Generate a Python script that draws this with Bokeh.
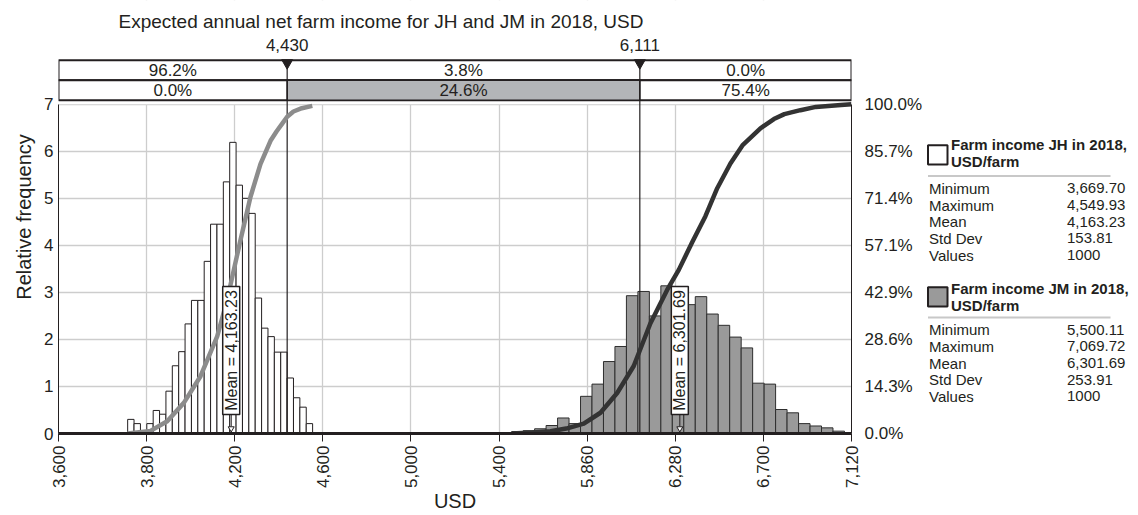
import math
import numpy as np
from bokeh.plotting import figure
from bokeh.layouts import row
from bokeh.models import (Range1d, LinearAxis, FixedTicker, NumeralTickFormatter)
from bokeh.embed import file_html
from bokeh.resources import INLINE
from bokeh.core.properties import value

# ---------------- data ----------------
x_tick_values = [3340, 3760, 4180, 4600, 5020, 5440, 5860, 6280, 6700, 7120]
x_tick_labels = ["3,600", "3,800", "4,200", "4,600", "5,000", "5,400", "5,860", "6,280", "6,700", "7,120"]
y_ticks = [0, 1, 2, 3, 4, 5, 6, 7]
cdf_ticks = [k / 7 for k in range(8)]

jh_bin_start = 3669.70
jh_bin_width = 30.4
jh_heights = [0.30, 0.21, 0.00, 0.21, 0.49, 0.41, 0.90, 1.44, 1.74, 2.33,
              2.83, 2.83, 3.66, 4.45, 4.45, 5.35, 6.19, 5.28, 5.00, 4.68,
              2.88, 2.24, 2.06, 1.73, 1.73, 1.18, 0.76, 0.56, 0.21]

jm_bin_start = 5500.11
jm_bin_width = 54.7
jm_heights = [0.04, 0.06, 0.10, 0.17, 0.33, 0.21, 0.79, 1.05, 1.53, 1.85,
              2.93, 3.02, 2.50, 3.14, 1.50, 2.74, 2.91, 2.54, 2.30, 2.05,
              1.82, 1.07, 1.05, 0.51, 0.44, 0.21, 0.16, 0.12, 0.05]

jh_cdf_x = [3669.70, 3778.7, 3858.2, 3937.4, 4017.0, 4096.5, 4144.2, 4175.7, 4207.6,
            4255.3, 4303.0, 4350.6, 4380.0, 4406.4, 4430.0, 4460.0, 4500.0, 4549.93]
jh_cdf_p = [0.0, 0.008, 0.037, 0.093, 0.174, 0.295, 0.406, 0.497, 0.588,
            0.719, 0.819, 0.889, 0.918, 0.941, 0.962, 0.978, 0.988, 0.995]

jm_cdf_x = [5500.11, 5600.0, 5685.0, 5760.0, 5843.8, 5923.4, 6003.0, 6082.0, 6161.6,
            6241.2, 6296.6, 6360.0, 6423.7, 6480.0, 6542.9, 6600.0, 6685.9, 6750.0,
            6800.0, 6876.5, 6950.0, 7069.72, 7120.0]
jm_cdf_p = [0.0, 0.003, 0.007, 0.015, 0.030, 0.063, 0.123, 0.205, 0.335,
            0.436, 0.497, 0.580, 0.660, 0.745, 0.820, 0.875, 0.927, 0.955,
            0.970, 0.982, 0.992, 0.998, 1.0]

means = [4163.23, 6301.69]
cutoffs = [4430, 6111]
cutoff_labels = ["4,430", "6,111"]
jh_region_pct = ["96.2%", "3.8%", "0.0%"]
jm_region_pct = ["0.0%", "24.6%", "75.4%"]

stat_names = ["Minimum", "Maximum", "Mean", "Std Dev", "Values"]
jh_stats = ["3,669.70", "4,549.93", "4,163.23", "153.81", "1000"]
jm_stats = ["5,500.11", "7,069.72", "6,301.69", "253.91", "1000"]
series_names = ["Farm income JH in 2018,", "Farm income JM in 2018,"]
series_unit = "USD/farm"

title_text = "Expected annual net farm income for JH and JM in 2018, USD"
x_title = "USD"
y_title = "Relative frequency"

# ---------------- style / layout ----------------
FONT = "Liberation Sans"
DARK = "#231f20"
JH_FILL = "white"
JM_FILL = "#9a9a9a"
JH_CDF = "#8c8c8c"
JM_CDF = "#333333"
GRID = "#cdcdcd"
CELL_GRAY = "#b3b5b8"

X0, X1 = 3340, 7120
FR_L, FR_W, FR_R = 58, 793, 75           # main figure borders / frame width
PLOT_TOP_PAGE, BASE_PAGE = 104, 434      # page y of y=7 and y=0
FR_H = BASE_PAGE                         # frame spans page y 0..434
PX_PER_Y = (BASE_PAGE - PLOT_TOP_PAGE) / 7.0
Y_MAX = FR_H / PX_PER_Y
MAIN_W = FR_L + FR_W + FR_R
MAIN_H = 515
LEG_W = 1138 - MAIN_W


def dx(page_x):
    return X0 + (page_x - FR_L) * (X1 - X0) / FR_W


def dy(page_y):
    return (BASE_PAGE - page_y) / PX_PER_Y


p = figure(width=MAIN_W, height=MAIN_H, x_range=Range1d(X0, X1), y_range=Range1d(0, Y_MAX),
           output_backend="svg", toolbar_location=None,
           min_border_left=FR_L, min_border_right=FR_R,
           min_border_top=0, min_border_bottom=MAIN_H - FR_H,
           outline_line_color=None, background_fill_color="white",
           border_fill_color="white")
p.extra_y_ranges = {"cdf": Range1d(0, Y_MAX / 7)}

# x axis
xa = p.xaxis[0]
xa.ticker = FixedTicker(ticks=x_tick_values)
xa.bounds = (X0, X1)
xa.major_label_overrides = dict(zip(x_tick_values, x_tick_labels))
xa.major_label_orientation = math.pi / 2
xa.major_label_text_font = FONT
xa.major_label_text_font_size = "17px"
xa.major_label_text_color = DARK
xa.major_tick_out = 8
xa.major_tick_in = 0
xa.major_tick_line_color = DARK
xa.major_label_standoff = 4
xa.minor_tick_line_color = None
xa.axis_line_width = 3
xa.axis_line_color = DARK
xa.axis_label = x_title
xa.axis_label_text_font = FONT
xa.axis_label_text_font_size = "20px"
xa.axis_label_text_font_style = "normal"
xa.axis_label_text_color = DARK
xa.axis_label_standoff = -1

# left axis
ya = p.yaxis[0]
ya.ticker = FixedTicker(ticks=y_ticks)
ya.bounds = (0, 7)
ya.major_label_text_font = FONT
ya.major_label_text_font_size = "17px"
ya.major_label_text_color = DARK
ya.major_tick_out = 0
ya.major_tick_in = 0
ya.major_label_standoff = 5
ya.minor_tick_line_color = None
ya.axis_line_color = DARK
ya.axis_label = y_title
ya.axis_label_text_font = FONT
ya.axis_label_text_font_size = "20px"
ya.axis_label_text_font_style = "normal"
ya.axis_label_text_color = DARK
ya.axis_label_standoff = 6

# right axis (cumulative)
ra = LinearAxis(y_range_name="cdf", ticker=FixedTicker(ticks=cdf_ticks),
                formatter=NumeralTickFormatter(format="0.0%"), bounds=(0, 1))
ra.major_label_text_font = FONT
ra.major_label_text_font_size = "17px"
ra.major_label_text_color = DARK
ra.major_tick_out = 0
ra.major_tick_in = 0
ra.major_label_standoff = 13
ra.minor_tick_line_color = None
ra.axis_line_color = DARK
p.add_layout(ra, "right")

p.xgrid.grid_line_color = GRID
p.ygrid.grid_line_color = GRID
p.xgrid.grid_line_width = 1.3
p.ygrid.grid_line_width = 1.3

# white cover above the plotting area (hides grid in the header zone)
p.quad(left=[X0], right=[X1], bottom=[7.0], top=[Y_MAX], fill_color="white",
       line_color=None)

# histograms
jh_edges = jh_bin_start + jh_bin_width * np.arange(len(jh_heights) + 1)
jm_edges = jm_bin_start + jm_bin_width * np.arange(len(jm_heights) + 1)
p.quad(left=jh_edges[:-1], right=jh_edges[1:], bottom=0, top=jh_heights,
       fill_color=JH_FILL, line_color=DARK, line_width=1)
p.quad(left=jm_edges[:-1], right=jm_edges[1:], bottom=0, top=jm_heights,
       fill_color=JM_FILL, line_color="#2e2e2e", line_width=1)

# header boxes with region percentages
row_y = [dy(60), dy(80), dy(100)]
for r in range(2):
    p.quad(left=[X0], right=[X1], top=[row_y[r]], bottom=[row_y[r + 1]],
           fill_color="white", line_color=DARK, line_width=2)
p.quad(left=[cutoffs[0]], right=[cutoffs[1]], top=[row_y[1]], bottom=[row_y[2]],
       fill_color=CELL_GRAY, line_color=DARK, line_width=1.5)
cells = [X0] + cutoffs + [X1]
for r, pcts in enumerate([jh_region_pct, jm_region_pct]):
    cy = (row_y[r] + row_y[r + 1]) / 2
    for i, t in enumerate(pcts):
        p.text(x=[(cells[i] + cells[i + 1]) / 2], y=[cy], text=[t], text_align="center",
               text_baseline="middle", text_font=value(FONT), text_font_size="17px",
               text_color=DARK)

# cutoff lines, markers and values
for c, lab in zip(cutoffs, cutoff_labels):
    p.segment(x0=[c], y0=[0], x1=[c], y1=[dy(62)], line_color=DARK, line_width=1.2)
    p.scatter(x=[c], y=[dy(62.5)], marker="inverted_triangle", size=11,
              fill_color=DARK, line_color=DARK)
    p.text(x=[c], y=[dy(45)], text=[lab], text_align="center", text_baseline="middle",
           text_font=value(FONT), text_font_size="17px", text_color=DARK)

# cumulative curves
p.line(jh_cdf_x, jh_cdf_p, y_range_name="cdf", line_color=JH_CDF, line_width=4.5,
       line_join="round")
p.line(jm_cdf_x, jm_cdf_p, y_range_name="cdf", line_color=JM_CDF, line_width=4.5,
       line_join="round")

# mean markers
box_cy = dy(350.8)
for m in means:
    p.rect(x=[m], y=[box_cy], width=17, height=128, width_units="screen",
           height_units="screen", fill_color="white", line_color=DARK, line_width=1.5)
    p.text(x=[m], y=[box_cy], text=[f"Mean = {m:,.2f}"], angle=math.pi / 2,
           text_align="center", text_baseline="middle", text_font=value(FONT),
           text_font_size="16px", text_color=DARK)
    p.segment(x0=[m], y0=[dy(415)], x1=[m], y1=[dy(427)], line_color=DARK, line_width=1)
    p.scatter(x=[m], y=[dy(429)], marker="inverted_triangle", size=6,
              fill_color="white", line_color=DARK, line_width=1)

# chart title
p.text(x=[dx(118)], y=[dy(21)], text=[title_text], text_align="left",
       text_baseline="middle", text_font=value(FONT), text_font_size="19px",
       text_color=DARK)

# ---------------- legend / statistics panel ----------------
# its frame is aligned with the main frame (page y 0..434)
leg_left = MAIN_W
q = figure(width=LEG_W, height=MAIN_H, x_range=Range1d(leg_left, leg_left + LEG_W),
           y_range=Range1d(BASE_PAGE, 0), output_backend="svg", toolbar_location=None,
           min_border_left=0, min_border_right=0, min_border_top=0,
           min_border_bottom=MAIN_H - FR_H, x_axis_location=None, y_axis_location=None,
           outline_line_color=None, background_fill_color="white",
           border_fill_color="white")
q.xgrid.visible = False
q.ygrid.visible = False

blocks = [
    dict(sq_top=145.0, name_y=144.3, sep=176.0, stat0=188.3, fill=JH_FILL, stats=jh_stats,
         name=series_names[0]),
    dict(sq_top=287.3, name_y=288.3, sep=317.7, stat0=330.0, fill=JM_FILL, stats=jm_stats,
         name=series_names[1]),
]
for b in blocks:
    q.quad(left=[927.5], right=[947], top=[b["sq_top"]], bottom=[b["sq_top"] + 19.5],
           fill_color=b["fill"], line_color=DARK, line_width=2)
    q.text(x=[950.5, 950.5], y=[b["name_y"], b["name_y"] + 17.5],
           text=[b["name"], series_unit], text_align="left", text_baseline="middle",
           text_font=value(FONT), text_font_size="15px", text_font_style="bold",
           text_color=DARK)
    q.segment(x0=[927.5], y0=[b["sep"]], x1=[1110], y1=[b["sep"]], line_color="#c8c8c8",
              line_width=2)
    ys = [b["stat0"] + 16.7 * i for i in range(len(stat_names))]
    q.text(x=[928.5] * len(ys), y=ys, text=stat_names, text_align="left",
           text_baseline="middle", text_font=value(FONT), text_font_size="15px",
           text_color=DARK)
    q.text(x=[1066.5] * len(ys), y=ys, text=b["stats"], text_align="left",
           text_baseline="middle", text_font=value(FONT), text_font_size="15px",
           text_color=DARK)

layout = row(p, q)
open("out.html", "w").write(file_html(layout, INLINE))
